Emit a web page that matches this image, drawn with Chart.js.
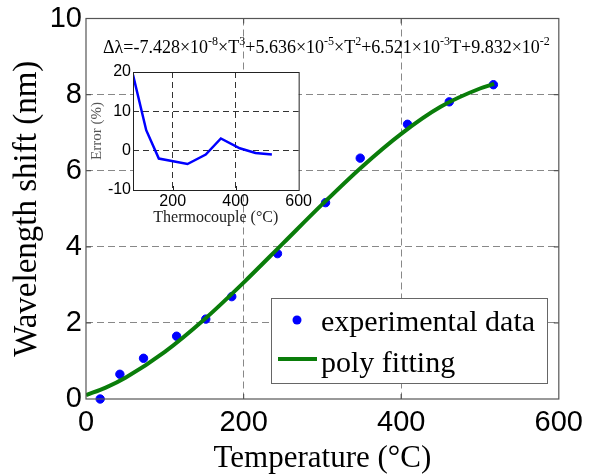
<!DOCTYPE html>
<html>
<head>
<meta charset="utf-8">
<script src="https://cdn.jsdelivr.net/npm/chart.js@4.4.1/dist/chart.umd.min.js"></script>
<style>
  html, body { margin: 0; padding: 0; background: #fff; }
  #wrap { position: relative; width: 590px; height: 474px; }
  #mainChart { position: absolute; left: 0; top: 0; }
  #insetChart { position: absolute; left: 76px; top: 58px; }
</style>
</head>
<body>
<div id="wrap">
  <canvas id="mainChart" width="590" height="474"></canvas>
  <canvas id="insetChart" width="240" height="180"></canvas>
</div>
<script>
// measured wavelength shift vs temperature
const tempC   = [18, 43, 73, 115, 152, 185, 243, 304, 348, 408, 461, 517];
const shiftNm = [0.00, 0.65, 1.07, 1.65, 2.10, 2.69, 3.82, 5.16, 6.33, 7.22, 7.81, 8.26];

// points
const fitTemp  = [0, 25, 50, 100, 150, 200, 250, 300, 350, 400, 450, 500, 518];
const fitShift = [0.10, 0.30, 0.56, 1.24, 2.09, 3.06, 4.09, 5.12, 6.10, 6.97, 7.68, 8.16, 8.28];

// inset: error vs thermocouple
const errTemp = [74, 116, 156, 247, 305, 353, 413, 463, 515];
const errPct  = [19.3, 5.2, -2.0, -3.4, -1.0, 3.1, 0.6, -0.6, -1.0];

const xTicksMain = [0, 200, 400, 600];
const yTicksMain = [0, 2, 4, 6, 8, 10];
const xTicksInset = [200, 400, 600];
const yTicksInset = [-10, 0, 10, 20];

const legendLabels = ['experimental data', 'poly fitting'];

// fitted equation, [text, isSuperscript]
const eqParts = [
    ['\u0394\u03bb=-7.428\u00d710', false], ['-8', true], ['\u00d7T', false], ['3', true],
    ['+5.636\u00d710', false], ['-5', true], ['\u00d7T', false], ['2', true],
    ['+6.521\u00d710', false], ['-3', true], ['T+9.832\u00d710', false], ['-2', true]
];

const SANS = '"Liberation Sans", Arial, sans-serif';
const SERIF = '"Liberation Serif", "Times New Roman", serif';

function edgeTransparent(edges, color) {
    return ctx => (edges.includes(ctx.tick && ctx.tick.value) ? 'rgba(0,0,0,0)' : color);
}

// frame, inward ticks, equation and legend for the main plot
const mainDecor = {
    id: 'mainDecor',
    afterDraw(chart) {
        const {ctx, chartArea: a, scales: {x, y}} = chart;
        ctx.save();
        ctx.strokeStyle = '#555';
        ctx.lineWidth = 1.2;
        ctx.strokeRect(a.left, a.top, a.right - a.left, a.bottom - a.top);
        ctx.beginPath();
        [200, 400].forEach(v => {
            const px = x.getPixelForValue(v);
            ctx.moveTo(px, a.bottom); ctx.lineTo(px, a.bottom - 5);
            ctx.moveTo(px, a.top); ctx.lineTo(px, a.top + 5);
        });
        [2, 4, 6, 8].forEach(v => {
            const py = y.getPixelForValue(v);
            ctx.moveTo(a.left, py); ctx.lineTo(a.left + 5, py);
            ctx.moveTo(a.right, py); ctx.lineTo(a.right - 5, py);
        });
        ctx.stroke();

        // equation
        ctx.fillStyle = '#000';
        ctx.textBaseline = 'alphabetic';
        let ex = 103;
        const ey = 53;
        eqParts.forEach(([txt, sup]) => {
            ctx.font = sup ? '12px ' + SERIF : '18px ' + SERIF;
            ctx.fillText(txt, ex, sup ? ey - 8 : ey);
            ex += ctx.measureText(txt).width;
        });

        // legend box
        ctx.fillStyle = '#fff';
        ctx.fillRect(271, 298, 276, 85);
        ctx.strokeStyle = '#666';
        ctx.lineWidth = 1;
        ctx.strokeRect(271.5, 298.5, 276, 85);
        ctx.fillStyle = '#0000ff';
        ctx.beginPath();
        ctx.arc(297, 320, 4.5, 0, Math.PI * 2);
        ctx.fill();
        ctx.strokeStyle = '#0a7d0a';
        ctx.lineWidth = 4;
        ctx.beginPath();
        ctx.moveTo(278, 359); ctx.lineTo(317, 359);
        ctx.stroke();
        ctx.fillStyle = '#000';
        ctx.font = '30px ' + SERIF;
        ctx.fillText(legendLabels[0], 321, 331);
        ctx.fillText(legendLabels[1], 321, 372);
        ctx.restore();
    }
};

new Chart(document.getElementById('mainChart'), {
    type: 'scatter',
    data: {
        datasets: [
            {
                label: legendLabels[1],
                data: fitTemp.map((t, i) => ({x: t, y: fitShift[i]})),
                showLine: true,
                borderColor: '#0a7d0a',
                borderWidth: 4,
                pointRadius: 0,
                cubicInterpolationMode: 'monotone',
                fill: false,
                order: 0
            },
            {
                label: legendLabels[0],
                data: tempC.map((t, i) => ({x: t, y: shiftNm[i]})),
                showLine: false,
                backgroundColor: '#0000ff',
                borderColor: '#0000ff',
                pointRadius: 4.2,
                clip: false,
                order: 1
            }
        ]
    },
    options: {
        responsive: false,
        animation: false,
        events: [],
        layout: { padding: { top: 17, right: 25, left: 0, bottom: 0 } },
        plugins: { legend: { display: false }, tooltip: { enabled: false } },
        scales: {
            x: {
                type: 'linear', min: 0, max: 600,
                afterBuildTicks: s => { s.ticks = xTicksMain.map(v => ({value: v})); },
                afterFit: s => { s.height = 75; },
                ticks: { font: { family: SANS, size: 29, lineHeight: 1.2 }, color: '#000', padding: 7 },
                grid: { color: edgeTransparent([0, 600], '#888'), lineWidth: 1, drawTicks: false },
                border: { display: false, dash: [7, 4] },
                title: {
                    display: true, text: 'Temperature (\u00b0C)', color: '#000',
                    font: { family: SERIF, size: 31, lineHeight: 1 }, padding: { top: 0, bottom: 0 }
                }
            },
            y: {
                type: 'linear', min: 0, max: 10,
                afterBuildTicks: s => { s.ticks = yTicksMain.map(v => ({value: v})); },
                afterFit: s => { s.width = 86; },
                ticks: { font: { family: SANS, size: 29, lineHeight: 1 }, color: '#000', padding: 4 },
                grid: { color: edgeTransparent([0, 10], '#888'), lineWidth: 1, drawTicks: false },
                border: { display: false, dash: [7, 4] },
                title: {
                    display: true, text: 'Wavelength shift (nm)', color: '#000',
                    font: { family: SERIF, size: 33, lineHeight: 1 }, padding: { top: 11, bottom: 0 }
                }
            }
        }
    },
    plugins: [mainDecor]
});

// inset: white plot area, frame and inward ticks
const insetDecor = {
    id: 'insetDecor',
    beforeDraw(chart) {
        const {ctx, chartArea: a} = chart;
        ctx.save();
        ctx.fillStyle = '#fff';
        ctx.fillRect(a.left, a.top, a.right - a.left, a.bottom - a.top);
        ctx.restore();
    },
    afterDraw(chart) {
        const {ctx, chartArea: a, scales: {x}} = chart;
        ctx.save();
        ctx.strokeStyle = '#222';
        ctx.lineWidth = 1;
        ctx.strokeRect(a.left + 0.5, a.top + 0.5, a.right - a.left, a.bottom - a.top);
        ctx.beginPath();
        [200, 400].forEach(v => {
            const px = Math.round(x.getPixelForValue(v)) + 0.5;
            ctx.moveTo(px, a.bottom); ctx.lineTo(px, a.bottom - 4);
        });
        ctx.stroke();
        ctx.restore();
    }
};

new Chart(document.getElementById('insetChart'), {
    type: 'scatter',
    data: {
        datasets: [{
            data: errTemp.map((t, i) => ({x: t, y: errPct[i]})),
            showLine: true,
            borderColor: '#0000ff',
            borderWidth: 2.5,
            pointRadius: 0,
            tension: 0,
            fill: false
        }]
    },
    options: {
        responsive: false,
        animation: false,
        events: [],
        layout: { padding: { top: 14, right: 16, left: 0, bottom: 0 } },
        plugins: { legend: { display: false }, tooltip: { enabled: false } },
        scales: {
            x: {
                type: 'linear', min: 74, max: 600,
                afterBuildTicks: s => { s.ticks = xTicksInset.map(v => ({value: v})); },
                afterFit: s => { s.height = 48; },
                ticks: { font: { family: SANS, size: 16, lineHeight: 1 }, color: '#000', padding: 4 },
                grid: { color: edgeTransparent([600], '#333'), lineWidth: 1, drawTicks: false },
                border: { display: false, dash: [6, 4] },
                title: {
                    display: true, text: 'Thermocouple (\u00b0C)', color: '#222',
                    font: { family: SERIF, size: 16, lineHeight: 1 }, padding: { top: 0, bottom: 12 }
                }
            },
            y: {
                type: 'linear', min: -10, max: 20,
                afterBuildTicks: s => { s.ticks = yTicksInset.map(v => ({value: v})); },
                afterFit: s => { s.width = 57; },
                ticks: { font: { family: SANS, size: 16, lineHeight: 1 }, color: '#000', padding: 2 },
                grid: { color: edgeTransparent([-10, 20], '#333'), lineWidth: 1, drawTicks: false },
                border: { display: false, dash: [6, 4] },
                title: {
                    display: true, text: 'Error (%)', color: '#555',
                    font: { family: SERIF, size: 15, lineHeight: 1 }, padding: { top: 14, bottom: 0 }
                }
            }
        }
    },
    plugins: [insetDecor]
});
</script>
</body>
</html>
